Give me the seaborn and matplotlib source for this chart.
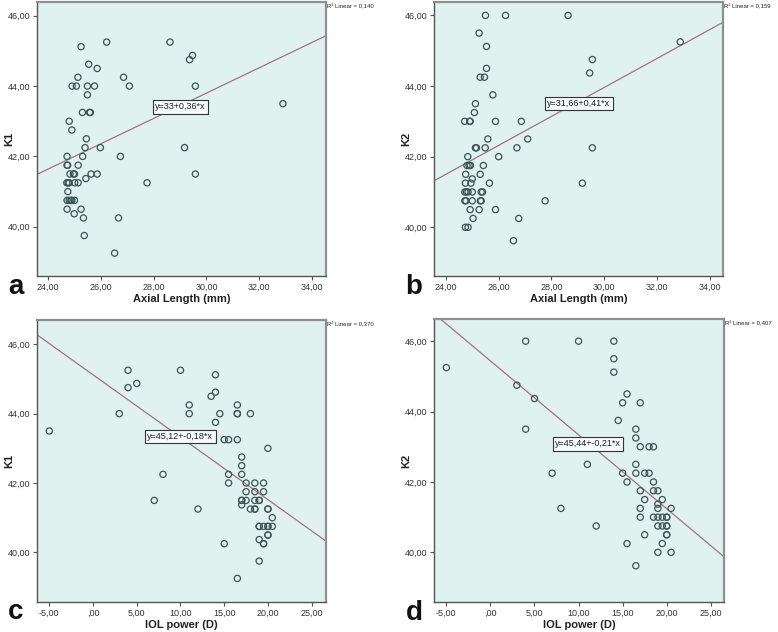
import matplotlib
matplotlib.use("Agg")
import matplotlib.pyplot as plt
import matplotlib.ticker as mticker
import seaborn as sns

# Panel a: Axial length vs K1
al_a = [25.25, 26.22, 28.62, 29.47, 29.36, 25.54, 25.86, 25.13, 26.86, 24.91,
        25.07, 25.49, 25.76, 27.08, 29.58, 25.49, 32.9, 25.3, 25.57, 25.6,
        24.8, 24.9, 25.45, 25.4, 25.98, 29.17, 24.72, 25.31, 26.74, 24.72,
        24.74, 25.14, 24.83, 24.96, 25.0, 25.63, 25.86, 29.58, 25.43, 24.71,
        24.76, 24.8, 25.01, 25.14, 27.75, 24.75, 24.72, 24.8, 24.86, 24.9,
        25.0, 24.72, 25.25, 24.99, 25.34, 26.67, 25.37, 26.52]
k1_a = [45.12, 45.25, 45.25, 44.87, 44.75, 44.62, 44.5, 44.25, 44.25, 44.0,
        44.0, 44.0, 44.0, 44.0, 44.0, 43.75, 43.5, 43.25, 43.25, 43.25,
        43.0, 42.75, 42.5, 42.25, 42.25, 42.25, 42.0, 42.0, 42.0, 41.75,
        41.75, 41.75, 41.5, 41.5, 41.5, 41.5, 41.5, 41.5, 41.37, 41.25,
        41.25, 41.25, 41.25, 41.25, 41.25, 41.0, 40.75, 40.75, 40.75, 40.75,
        40.75, 40.5, 40.5, 40.37, 40.25, 40.25, 39.75, 39.25]

# Panel b: Axial length vs K2
al_b = [25.5, 26.26, 28.63, 25.26, 25.54, 32.88, 29.55, 29.45, 25.54, 25.3,
        25.46, 25.78, 25.12, 25.08, 24.71, 24.9, 24.92, 25.88, 26.86, 25.59,
        27.1, 25.12, 25.16, 25.49, 26.69, 29.55, 24.83, 26.0, 24.8, 24.88,
        24.93, 25.42, 24.75, 25.3, 25.0, 24.74, 24.95, 25.65, 29.17, 24.72,
        24.78, 24.84, 25.0, 25.34, 25.39, 24.72, 24.76, 25.0, 25.31, 25.34,
        27.76, 24.92, 25.26, 25.88, 25.03, 26.76, 24.74, 24.84, 26.56]
k2_b = [46.0, 46.0, 46.0, 45.5, 45.12, 45.25, 44.75, 44.37, 44.5, 44.25,
        44.25, 43.75, 43.5, 43.25, 43.0, 43.0, 43.0, 43.0, 43.0, 42.5,
        42.5, 42.25, 42.25, 42.25, 42.25, 42.25, 42.0, 42.0, 41.75, 41.75,
        41.75, 41.75, 41.5, 41.5, 41.37, 41.25, 41.25, 41.25, 41.25, 41.0,
        41.0, 41.0, 41.0, 41.0, 41.0, 40.75, 40.75, 40.75, 40.75, 40.75,
        40.75, 40.5, 40.5, 40.5, 40.25, 40.25, 40.0, 40.0, 39.62]

# Panel c: IOL power vs K1
iol_c = [-5, 3, 4, 4, 5, 7, 8, 10, 11, 11,
         12, 13.5, 14, 14, 14, 14.5, 15, 15.5, 15, 15.5,
         15.5, 16.5, 16.5, 16.5, 16.5, 16.5, 17, 17, 17, 17,
         17, 17, 17.5, 17.5, 17.5, 18, 18, 18.5, 18.5, 18.5,
         18.5, 18.5, 19, 19, 19, 19, 19, 19, 19.5, 19.5,
         19.5, 19.5, 19.5, 20, 20, 20, 20, 20, 20, 20,
         20.5, 20.5]
k1_c = [43.5, 44.0, 45.25, 44.75, 44.87, 41.5, 42.25, 45.25, 44.25, 44.0,
        41.25, 44.5, 44.62, 45.12, 43.75, 44.0, 43.25, 43.25, 40.25, 42.25,
        42.0, 44.25, 44.0, 44.0, 43.25, 39.25, 42.75, 42.5, 42.25, 41.5,
        41.5, 41.37, 42.0, 41.75, 41.5, 44.0, 41.25, 42.0, 41.75, 41.5,
        41.25, 41.25, 41.5, 41.5, 40.75, 40.75, 40.37, 39.75, 42.0, 41.75,
        40.75, 40.25, 40.25, 43.0, 41.25, 41.25, 40.75, 40.75, 40.5, 40.5,
        41.0, 40.75]

# Panel d: IOL power vs K2
iol_d = [-5, 3, 4, 4, 5, 7, 8, 10, 11, 12,
         14, 14, 14, 14.5, 15, 15, 15.5, 15.5, 15.5, 16.5,
         16.5, 16.5, 16.5, 16.5, 17, 17, 17, 17, 17, 17.5,
         17.5, 17.5, 18, 18, 18.5, 18.5, 18.5, 19, 18.5, 19,
         19, 19, 19, 19, 19.5, 19.5, 19.5, 19.5, 20, 20,
         20, 20, 20, 20, 20.5, 20.5]
k2_d = [45.25, 44.75, 46.0, 43.5, 44.37, 42.25, 41.25, 46.0, 42.5, 40.75,
        46.0, 45.5, 45.12, 43.75, 44.25, 42.25, 44.5, 42.0, 40.25, 43.5,
        43.25, 42.5, 42.25, 39.62, 44.25, 43.0, 41.75, 41.25, 41.0, 41.5,
        40.5, 42.25, 42.25, 43.0, 43.0, 42.0, 41.75, 41.75, 41.0, 41.37,
        41.25, 41.0, 40.75, 40.0, 41.5, 41.0, 40.75, 40.25, 41.0, 41.0,
        40.75, 40.75, 40.5, 40.5, 41.25, 40.0]

# fit lines and labels
intercepts = [33.0, 31.66, 45.12, 45.44]
slopes = [0.36, 0.41, -0.18, -0.21]
fit_labels = ["y=33+0,36*x", "y=31,66+0,41*x", "y=45,12+-0,18*x", "y=45,44+-0,21*x"]
r2_labels = ["R² Linear = 0,140", "R² Linear = 0,159", "R² Linear = 0,370", "R² Linear = 0,407"]
fit_pos = [(29.0, 43.41), (29.04, 43.5), (9.98, 43.34), (11.08, 43.08)]
panel_letters = ["a", "b", "c", "d"]
x_titles = ["Axial Length (mm)", "Axial Length (mm)", "IOL power (D)", "IOL power (D)"]
y_titles = ["K1", "K2", "K1", "K2"]

sns.set_theme(style="white")
plt.rcParams["font.family"] = ["Liberation Sans", "DejaVu Sans"]

BG = "#dff2ef"
EDGE = "#3d5452"
LINE = "#a37380"
SPINE = "#8f8f8f"


def comma_fmt(v, pos):
    s = f"{v:.2f}".replace(".", ",")
    if s.startswith("0,"):
        s = s[1:]
    return s


fig = plt.figure(figsize=(7.78, 6.32), dpi=100)
rects = [
    [37 / 778, 1 - 276 / 632, 289 / 778, 274 / 632],
    [434 / 778, 1 - 276 / 632, 289 / 778, 274 / 632],
    [37 / 778, 1 - 602 / 632, 289 / 778, 282 / 632],
    [434 / 778, 1 - 602 / 632, 290 / 778, 283 / 632],
]
xlims = [(23.58, 34.53), (23.55, 34.5), (-6.41, 26.64), (-6.4, 26.5)]
ylims = [(38.6, 46.39), (38.62, 46.38), (38.57, 46.7), (38.59, 46.63)]
xticks = [[24, 26, 28, 30, 32, 34]] * 2 + [[-5, 0, 5, 10, 15, 20, 25]] * 2
letter_pos = [(16, 287), (414, 287), (16, 612), (414, 613)]

xs = [al_a, al_b, iol_c, iol_d]
ys = [k1_a, k2_b, k1_c, k2_d]

for i in range(4):
    ax = fig.add_axes(rects[i])
    ax.set_facecolor(BG)
    sns.scatterplot(x=xs[i], y=ys[i], ax=ax, marker="o", s=20,
                    facecolor="none", edgecolor=EDGE, linewidth=0.9, zorder=3)
    ax.axline((0, intercepts[i]), slope=slopes[i], color=LINE, lw=0.9, zorder=2)
    ax.set_xlim(*xlims[i])
    ax.set_ylim(*ylims[i])
    ax.set_xticks(xticks[i])
    ax.set_yticks([40, 42, 44, 46])
    ax.xaxis.set_major_formatter(mticker.FuncFormatter(comma_fmt))
    ax.yaxis.set_major_formatter(mticker.FuncFormatter(comma_fmt))
    ax.tick_params(axis="both", which="major", direction="out", length=3,
                   width=0.8, color="#555555", labelsize=6.5,
                   labelcolor="#333333", pad=2, bottom=True, left=True)
    for sp in ax.spines.values():
        sp.set_color(SPINE)
        sp.set_linewidth(1.0)
    ax.spines["top"].set_linewidth(1.6)
    ax.spines["right"].set_linewidth(1.6)
    ax.spines["left"].set_color("#555555")
    ax.spines["bottom"].set_color("#555555")

    ax.set_xlabel(x_titles[i], fontsize=8, fontweight="bold", color="#222222")
    ax.set_ylabel(y_titles[i], fontsize=8, fontweight="bold", color="#222222")
    ax.xaxis.set_label_coords(0.5, -0.065)
    ax.yaxis.set_label_coords(-0.08, 0.5)

    ax.text(fit_pos[i][0], fit_pos[i][1], fit_labels[i], fontsize=6.5,
            ha="center", va="center", color="#222222", zorder=4,
            bbox=dict(boxstyle="square,pad=0.25", fc="#f4fbfa", ec="#333333", lw=0.8))
    ax.text(1.003, 0.985, r2_labels[i], transform=ax.transAxes, fontsize=4.3,
            ha="left", va="center", color="#222222")

    fig.text(letter_pos[i][0] / 778, 1 - letter_pos[i][1] / 632, panel_letters[i],
             fontsize=20, fontweight="bold", ha="center", va="center", color="#111111")

fig.savefig("out.png", dpi=100)
